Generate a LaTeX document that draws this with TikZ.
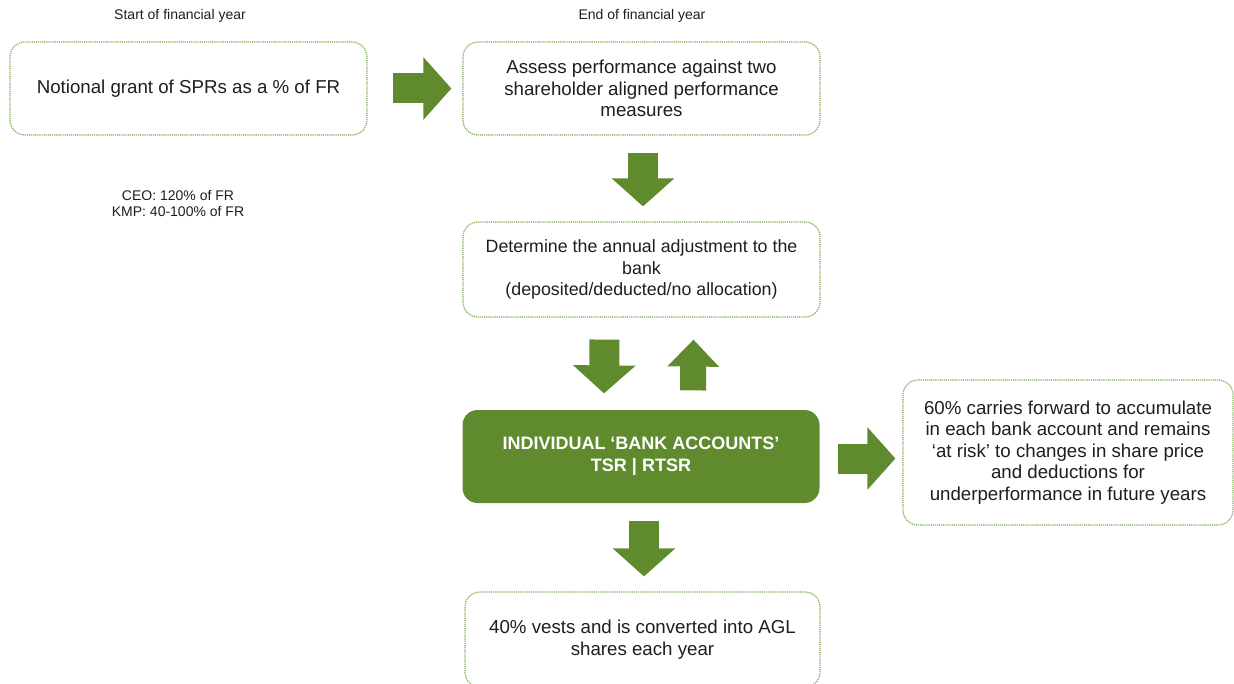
\documentclass[tikz,border=0pt]{standalone}
\usepackage{fontspec}
\setmainfont{Liberation Sans}
\usetikzlibrary{arrows.meta}
\definecolor{aglgreen}{RGB}{95,139,46}
\definecolor{boxline}{RGB}{128,174,88}
\definecolor{txt}{RGB}{30,30,30}
\tikzstyle{every node}+=[inner sep=0pt]
\tikzstyle{stagebox}=[draw=boxline, line width=1.2pt, dash pattern=on 1.2pt off 0.9pt, rounded corners=15pt, minimum width=357pt, minimum height=93pt, align=center, text=txt, font=\fontsize{18.7}{21.5}\selectfont]
\tikzstyle{bankbox}=[stagebox, draw=none, fill=aglgreen, text=white, font=\bfseries\fontsize{18}{22}\selectfont]
\tikzstyle{notetext}=[align=center, text=txt, font=\fontsize{14}{16}\selectfont]
\tikzstyle{fatarrow}=[aglgreen, line width=30pt, -{Triangle[length=28pt,width=61pt]}]

\begin{document}
\begin{tikzpicture}[x=1pt,y=-1pt]
\useasboundingbox (0,0) rectangle (1234,684);
\clip (0,0) rectangle (1234,684);

\node[notetext] (start) at (180,16) {Start of financial year};
\node[notetext] (finish) at (642,16) {End of financial year};
\node[notetext] (levels) at (178,204) {CEO: 120\% of FR\\KMP: 40-100\% of FR};

\node[stagebox] (grant) at (188.5,88.5) {Notional grant of SPRs as a \% of FR};
\node[stagebox] (assess) at (641.5,88.5) {Assess performance against two\\shareholder aligned performance\\measures};
\node[stagebox, minimum height=95pt, font=\fontsize{17.8}{21.5}\selectfont] (adjust) at (641.5,269.5) {Determine the annual adjustment to the\\bank\\(deposited/deducted/no allocation)};
\node[bankbox] (bank) at (641,456.5) {INDIVIDUAL ‘BANK ACCOUNTS’\\TSR | RTSR};
\node[stagebox, minimum width=330pt, minimum height=145pt] (carry) at (1068,452.5) {60\% carries forward to accumulate\\in each bank account and remains\\‘at risk’ to changes in share price\\and deductions for\\underperformance in future years};
\node[stagebox, minimum width=355pt, minimum height=95pt] (vest) at (642.5,639.5) {40\% vests and is converted into AGL\\shares each year};

% block arrows
\draw[fatarrow] ([xshift=25pt]grant.east) -- ([xshift=-11pt]assess.west);
\draw[fatarrow] ([xshift=1.5pt,yshift=-17pt]assess.south) -- ([xshift=1.5pt,yshift=15pt]adjust.north);
\draw[fatarrow] ([xshift=-37pt,yshift=-22pt]adjust.south) -- ([xshift=-37pt,yshift=16pt]bank.north);
\draw[fatarrow, line width=26pt, -{Triangle[length=27pt,width=50pt]}] ([xshift=52pt,yshift=19pt]bank.north) -- ([xshift=52pt,yshift=-22pt]adjust.south);
\draw[fatarrow] ([xshift=18pt,yshift=-2pt]bank.east) -- ([xshift=-7pt,yshift=-6pt]carry.west);
\draw[fatarrow] ([xshift=3pt,yshift=-17pt]bank.south) -- ([xshift=1.5pt,yshift=15pt]vest.north);
\end{tikzpicture}
\end{document}
